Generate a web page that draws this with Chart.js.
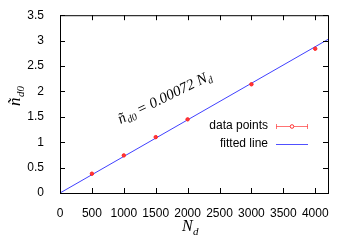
<!DOCTYPE html>
<html>
<head>
<meta charset="utf-8">
<script src="https://cdn.jsdelivr.net/npm/chart.js@4.4.1/dist/chart.umd.min.js"></script>
<style>
  html, body { margin: 0; padding: 0; background: #fff; }
  #wrap { width: 350px; height: 245px; }
</style>
</head>
<body>
<div id="wrap"><canvas id="myChart"></canvas></div>
<script>
// measured points
const nd = [500, 1000, 1500, 2000, 3000, 4000];
const nd0 = [0.38, 0.74, 1.10, 1.45, 2.14, 2.84];
// fitted line n_d0 = 0.00072 N_d
const fitX = [0, 4200];
const fitY = [0, 3.024];
const xTicks = [0, 500, 1000, 1500, 2000, 2500, 3000, 3500, 4000];
const yTicks = [0, 0.5, 1, 1.5, 2, 2.5, 3, 3.5];

const sans = '"Liberation Sans", Arial, sans-serif';
const serif = '"Liberation Serif", "DejaVu Serif", serif';

// frame, inward ticks, titles, annotation and legend (gnuplot look)
const decor = {
    id: 'decor',
    afterDraw(chart) {
        const ctx = chart.ctx;
        const a = chart.chartArea;
        const xs = chart.scales.x, ys = chart.scales.y;
        ctx.save();
        ctx.strokeStyle = '#000';
        ctx.lineWidth = 1;
        ctx.strokeRect(a.left + 0.5, a.top + 0.5, a.right - a.left, a.bottom - a.top);
        ctx.beginPath();
        xTicks.forEach(v => {
            const px = Math.round(xs.getPixelForValue(v)) + 0.5;
            ctx.moveTo(px, a.bottom); ctx.lineTo(px, a.bottom - 5);
            ctx.moveTo(px, a.top); ctx.lineTo(px, a.top + 5);
        });
        yTicks.forEach(v => {
            const py = Math.round(ys.getPixelForValue(v)) + 0.5;
            ctx.moveTo(a.left, py); ctx.lineTo(a.left + 5, py);
            ctx.moveTo(a.right, py); ctx.lineTo(a.right - 5, py);
        });
        ctx.stroke();

        // x title N_d
        ctx.fillStyle = '#000';
        ctx.textBaseline = 'alphabetic';
        ctx.font = 'italic 16px ' + serif;
        ctx.fillText('N', 182, 231);
        ctx.font = 'italic 11px ' + serif;
        ctx.fillText('d', 193, 235);

        // y title ñ_d0
        ctx.save();
        ctx.translate(20, 106);
        ctx.rotate(-Math.PI / 2);
        ctx.font = 'italic 17px ' + serif;
        ctx.fillText('\u00f1', 0, 0);
        ctx.font = 'italic 11px ' + serif;
        ctx.fillText('d0', 9, 4);
        ctx.restore();

        // formula along the line
        ctx.save();
        ctx.translate(xs.getPixelForValue(950), ys.getPixelForValue(1.36));
        ctx.rotate(-26 * Math.PI / 180);
        ctx.font = 'italic 15px ' + serif;
        ctx.fillText('\u00f1', 0, 0);
        ctx.font = 'italic 10px ' + serif;
        ctx.fillText('d0', 8, 3);
        ctx.font = 'italic 15px ' + serif;
        const mainTxt = '= 0.00072 N';
        ctx.fillText(mainTxt, 21, 0);
        const w = ctx.measureText(mainTxt).width;
        ctx.font = 'italic 10px ' + serif;
        ctx.fillText('d', 21 + w, 3);
        ctx.restore();

        // legend
        ctx.font = '12px ' + sans;
        ctx.textAlign = 'right';
        ctx.textBaseline = 'middle';
        ctx.fillText('data points', 268, 126);
        ctx.fillText('fitted line', 268, 144);
        ctx.strokeStyle = 'rgba(255,80,80,0.8)';
        ctx.beginPath();
        ctx.moveTo(276, 126.5); ctx.lineTo(308, 126.5);
        ctx.moveTo(276.5, 124); ctx.lineTo(276.5, 129);
        ctx.moveTo(307.5, 124); ctx.lineTo(307.5, 129);
        ctx.stroke();
        ctx.beginPath();
        ctx.arc(292, 126.5, 1.8, 0, Math.PI * 2);
        ctx.fillStyle = '#fff';
        ctx.fill();
        ctx.strokeStyle = '#ff3030';
        ctx.stroke();
        ctx.strokeStyle = 'rgb(80,80,255)';
        ctx.beginPath();
        ctx.moveTo(276, 144.5); ctx.lineTo(308, 144.5);
        ctx.stroke();
        ctx.restore();
    }
};

const ctx = document.getElementById('myChart');

new Chart(ctx, {
    type: 'scatter',
    data: {
        datasets: [{
            label: 'fitted line',
            data: fitX.map((x, i) => ({ x: x, y: fitY[i] })),
            showLine: true,
            borderColor: 'rgb(64,64,255)',
            borderWidth: 1,
            pointRadius: 0,
            order: 2
        }, {
            label: 'data points',
            data: nd.map((x, i) => ({ x: x, y: nd0[i] })),
            pointRadius: 1.7,
            backgroundColor: '#ff3838',
            borderColor: '#ff2020',
            borderWidth: 1,
            order: 1
        }]
    },
    plugins: [decor],
    options: {
        responsive: true,
        maintainAspectRatio: false,
        animation: false,
        layout: { padding: { left: 0, top: 15, right: 22, bottom: 0 } },
        plugins: {
            legend: { display: false },
            tooltip: { enabled: false }
        },
        scales: {
            x: {
                type: 'linear',
                min: 0,
                max: 4200,
                afterBuildTicks: (s) => { s.ticks = xTicks.map(v => ({ value: v })); },
                afterFit: (s) => { s.height = 52; },
                grid: { display: false },
                border: { display: false },
                ticks: { color: '#000', padding: 5, maxRotation: 0, font: { family: sans, size: 12 },
                    callback: (v) => String(v) }
            },
            y: {
                type: 'linear',
                min: 0,
                max: 3.5,
                afterBuildTicks: (s) => { s.ticks = yTicks.map(v => ({ value: v })); },
                afterFit: (s) => { s.width = 60; },
                grid: { display: false },
                border: { display: false },
                ticks: { color: '#000', padding: 8, font: { family: sans, size: 12 },
                    callback: (v) => String(v) }
            }
        }
    }
});
</script>
</body>
</html>
